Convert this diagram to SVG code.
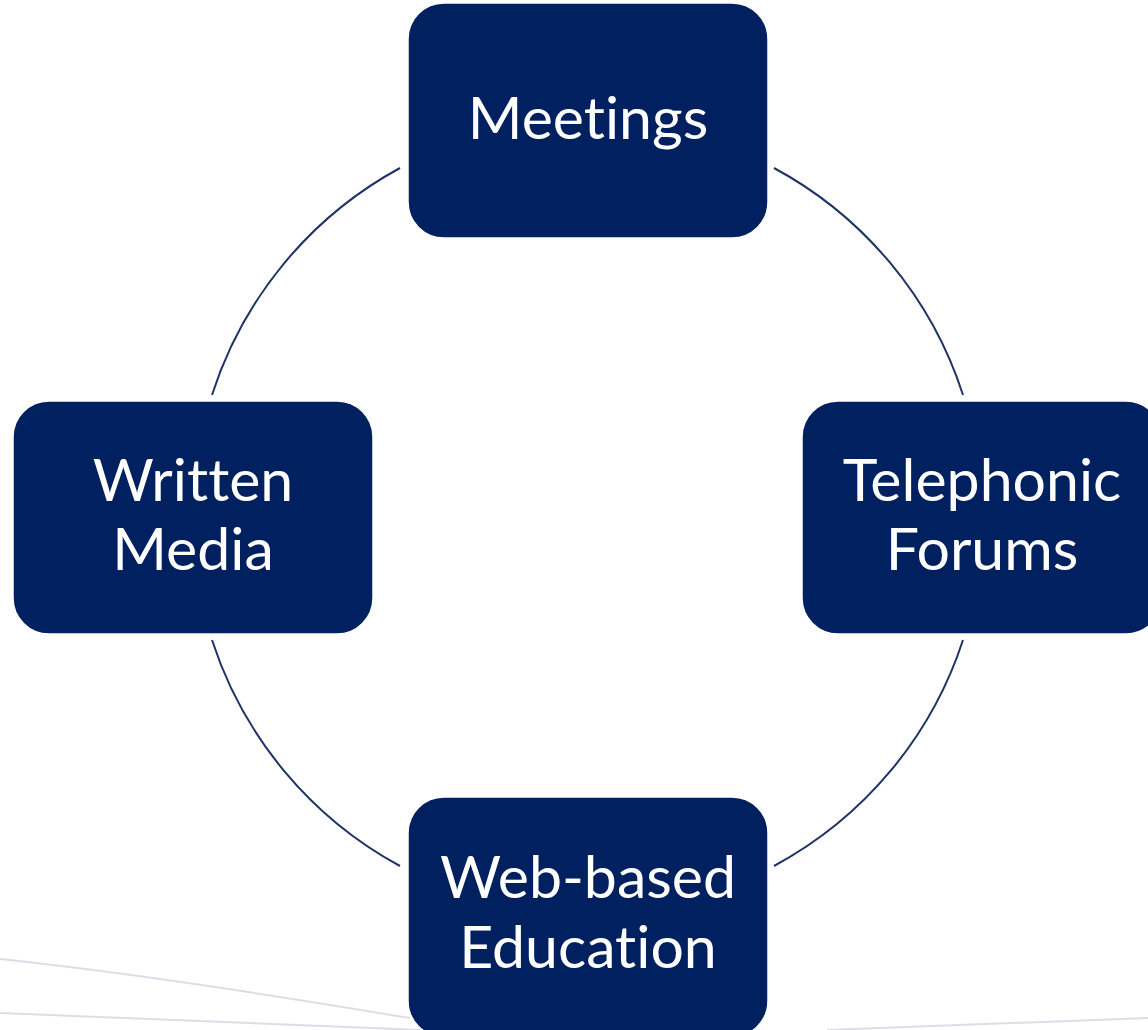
<svg xmlns="http://www.w3.org/2000/svg" width="1148" height="1030" viewBox="0 0 1148 1030">
  <style>
    .box { fill: #002060; stroke: #ffffff; stroke-width: 1.5; }
    .label { fill: #ffffff; font-family: Lato, "Open Sans", "Liberation Sans", sans-serif; font-size: 59px; text-anchor: middle; font-variant-ligatures: none; font-feature-settings: "liga" 0, "clig" 0; }
    .ring { fill: none; stroke: #1f3464; stroke-width: 2; }
    .swoosh { fill: none; stroke: #dcdde8; stroke-width: 2; }
  </style>
  <rect width="1148" height="1030" fill="#ffffff"/>

  <!-- faint background swooshes -->
  <g id="background">
    <path class="swoosh" d="M0,959 C150,975 300,1000 410,1018"/>
    <path class="swoosh" d="M0,1013 C150,1018 300,1024 420,1030"/>
    <path class="swoosh" d="M827,1030 C950,1025 1060,1021 1148,1018"/>
  </g>

  <!-- ring segments joining the four boxes -->
  <g id="connectors">
    <path class="ring" d="M400,168 A396,396 0 0 0 212,395"/>
    <path class="ring" d="M774,168 A396,396 0 0 1 963,395"/>
    <path class="ring" d="M963,640 A396,396 0 0 1 774,866"/>
    <path class="ring" d="M212,640 A396,396 0 0 0 400,866"/>
  </g>

  <g id="meetings">
    <rect class="box" x="408" y="3" width="360" height="235" rx="36"/>
    <text class="label" x="588" y="139">Meetings</text>
  </g>

  <g id="telephonic-forums">
    <rect class="box" x="802" y="401" width="360" height="233" rx="36"/>
    <text class="label" x="982" y="501">Telephonic</text>
    <text class="label" x="982" y="570">Forums</text>
  </g>

  <g id="written-media">
    <rect class="box" x="13" y="401" width="360" height="233" rx="36"/>
    <text class="label" x="193" y="501">Written</text>
    <text class="label" x="193" y="570">Media</text>
  </g>

  <g id="web-based-education">
    <rect class="box" x="408" y="797" width="360" height="240" rx="36"/>
    <text class="label" x="588" y="898">Web-based</text>
    <text class="label" x="588" y="968">Education</text>
  </g>
</svg>
